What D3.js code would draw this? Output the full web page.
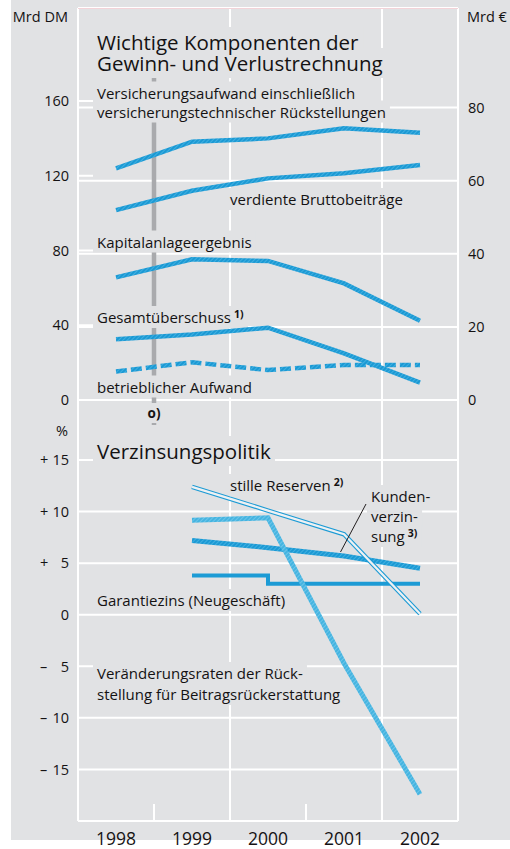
<!DOCTYPE html>
<html>
<head>
<meta charset="utf-8">
<script src="https://cdn.jsdelivr.net/npm/d3@7"></script>
<style>
  body { margin: 0; background: #fff; }
  text { font-family: "Open Sans", "Noto Sans", sans-serif; fill: #141213; }
</style>
</head>
<body>
<svg id="chart" width="510" height="849"></svg>
<script>
// years on the x axis
var years = ["1998", "1999", "2000", "2001", "2002"];
var pctYears = ["1999", "2000", "2001", "2002"];

// upper panel, Mrd DM
var versAufwand = [124, 138.2, 140, 145.4, 143];
var bruttoBeitraege = [101.6, 112, 118.6, 121.3, 125.7];
var kapitalErgebnis = [65.6, 75.3, 74.4, 62.4, 42.4];
var gesamtUeberschuss = [32.5, 35, 38.7, 25, 9.3];
var betrAufwand = [15.2, 20.2, 16, 18.7, 18.7];

// lower panel, %
var stilleReserven = [12.4, 10.1, 7.8, 0.1];
var rueckstellung = [9.15, 9.4, -4.7, -17.4];
var kundenZins = [7.2, 6.5, 5.7, 4.5];
var garantieZins = [3.8, 3.0, 3.0, 3.0];

// tick labels
var dmTicks = [0, 40, 80, 120, 160];
var euroTicks = [0, 20, 40, 60, 80];
var pctTicks = [15, 10, 5, 0, -5, -10, -15];

var bg = "#e1e2e4";
var blue = "#1c9bd5";
var svg = d3.select("#chart");

svg.append("rect").attr("x", 11).attr("y", 0).attr("width", 499).attr("height", 840).attr("fill", bg);

// hatch patterns for the thick lines
var defs = svg.append("defs");
function hatch(id, base, stripe) {
  var p = defs.append("pattern").attr("id", id)
      .attr("patternUnits", "userSpaceOnUse")
      .attr("width", 3).attr("height", 3)
      .attr("patternTransform", "rotate(45)");
  p.append("rect").attr("width", 3).attr("height", 3).attr("fill", base);
  p.append("rect").attr("width", 1).attr("height", 3).attr("fill", stripe);
}
hatch("hatchBlue", "#1b99d4", "#3fafe0");
hatch("hatchLight", "#45b4e0", "#6cc5ea");

// scales
var x = d3.scaleBand().domain(years).range([78, 458]);
var cx = function(d) { return x(d) + x.bandwidth() / 2; };
var yDM = d3.scaleLinear().domain([0, 160]).range([400, 101]);
var yEuro = d3.scaleLinear().domain([0, 80]).range([yDM(0), yDM(80 * 1.95583)]);
var yPct = d3.scaleLinear().domain([-20, 15]).range([821, 460]);

var grid = svg.append("g").attr("stroke", "#fff").attr("stroke-width", 2);

// horizontal grid lines
euroTicks.slice(1).forEach(function(t) {
  grid.append("line").attr("x1", 78).attr("x2", 458).attr("y1", yEuro(t)).attr("y2", yEuro(t));
});
dmTicks.forEach(function(t) {
  grid.append("line").attr("x1", 78).attr("x2", 93).attr("y1", yDM(t)).attr("y2", yDM(t));
});
grid.append("line").attr("x1", 78).attr("x2", 458).attr("y1", yDM(0)).attr("y2", yDM(0));
pctTicks.forEach(function(t) {
  grid.append("line").attr("x1", 78).attr("x2", 458).attr("y1", yPct(t)).attr("y2", yPct(t));
});
grid.append("line").attr("x1", 78).attr("x2", 458).attr("y1", yPct(-20)).attr("y2", yPct(-20));

// vertical lines
[78, x("2000"), x("2002"), 458].forEach(function(v) {
  grid.append("line").attr("x1", v).attr("x2", v).attr("y1", 8).attr("y2", 821);
});
[x("1999"), x("2001")].forEach(function(v) {
  grid.append("line").attr("x1", v).attr("x2", v).attr("y1", 804).attr("y2", 821);
});
grid.append("line").attr("x1", 78).attr("x2", 458).attr("y1", 8).attr("y2", 8);
svg.append("line").attr("x1", 78).attr("x2", 458).attr("y1", 8.5).attr("y2", 8.5)
  .attr("stroke", "#f3d3d8").attr("stroke-width", 1);

// marker bar for the currency switch
svg.append("line").attr("x1", x("1999")).attr("x2", x("1999")).attr("y1", 75).attr("y2", 425)
  .attr("stroke", "#a9aaad").attr("stroke-width", 4.5);

// text with a background box that hides the grid
var boxes = svg.append("g");
var labels = svg.append("g");
function label(tx, ty, str, size, opts) {
  opts = opts || {};
  var t = labels.append("text").attr("x", tx).attr("y", ty).attr("font-size", size)
      .attr("text-anchor", opts.anchor || "start")
      .attr("font-weight", opts.bold ? "bold" : null)
      .text(str);
  if (opts.sup) {
    t.append("tspan").attr("dx", 3).attr("dy", -5).attr("font-size", 10.5).attr("font-weight", "bold").text(opts.sup);
  }
  if (opts.box !== false) {
    var b = t.node().getBBox();
    boxes.append("rect").attr("x", b.x - 4).attr("y", b.y - 1)
      .attr("width", b.width + 8).attr("height", b.height + 2).attr("fill", bg);
  }
  return t;
}

label(97, 50, "Wichtige Komponenten der", 20.5);
label(97, 71, "Gewinn- und Verlustrechnung", 20.5);
label(97, 98.5, "Versicherungsaufwand einschließlich", 15);
label(97, 117.5, "versicherungstechnischer Rückstellungen", 15);
label(230, 205, "verdiente Bruttobeiträge", 15);
label(97, 247.5, "Kapitalanlageergebnis", 15);
label(97, 323, "Gesamtüberschuss", 15, {sup: "1)"});
label(97, 392.5, "betrieblicher Aufwand", 15);
label(x("1999"), 418, "o)", 13.5, {anchor: "middle", bold: true});

label(97, 459, "Verzinsungspolitik", 20.5);
label(230, 491, "stille Reserven", 15, {sup: "2)"});
label(371, 502, "Kunden-", 15);
label(371, 522, "verzin-", 15);
label(371, 542, "sung", 15, {sup: "3)"});
label(97, 606, "Garantiezins (Neugeschäft)", 15);
label(97, 679, "Veränderungsraten der Rück-", 15);
label(97, 700, "stellung für Beitragsrückerstattung", 15);

// axis labels
label(68, 22, "Mrd DM", 14.5, {anchor: "end", box: false});
label(467, 22, "Mrd €", 14.5, {box: false});
label(68, 436, "%", 14.5, {anchor: "end", box: false});

svg.append("g").selectAll("text").data(dmTicks).join("text")
  .attr("x", 69).attr("y", function(d) { return yDM(d); }).attr("dy", "0.36em")
  .attr("text-anchor", "end").attr("font-size", 14.5).text(function(d) { return d; });
svg.append("g").selectAll("text").data(euroTicks).join("text")
  .attr("x", 468).attr("y", function(d) { return yEuro(d); }).attr("dy", "0.36em")
  .attr("font-size", 14.5).text(function(d) { return d; });
var pctLab = svg.append("g").selectAll("g").data(pctTicks).join("g")
  .attr("transform", function(d) { return "translate(0," + yPct(d) + ")"; });
pctLab.append("text").attr("x", 69).attr("dy", "0.36em").attr("text-anchor", "end")
  .attr("font-size", 14.5).text(function(d) { return Math.abs(d); });
pctLab.append("text").attr("x", 40).attr("dy", "0.36em").attr("font-size", 14.5)
  .text(function(d) { return d > 0 ? "+" : d < 0 ? "–" : ""; });

svg.append("g").selectAll("text").data(years).join("text")
  .attr("x", cx).attr("y", 845).attr("text-anchor", "middle")
  .attr("font-size", 17.5).text(function(d) { return d; });

// data lines
var lineDM = d3.line().x(function(d, i) { return cx(years[i]); }).y(function(d) { return yDM(d); });
var linePct = d3.line().x(function(d, i) { return cx(pctYears[i]); }).y(function(d) { return yPct(d); });
var lines = svg.append("g").attr("fill", "none").attr("stroke-linejoin", "miter");

[versAufwand, bruttoBeitraege, kapitalErgebnis, gesamtUeberschuss].forEach(function(s) {
  lines.append("path").attr("d", lineDM(s)).attr("stroke", "url(#hatchBlue)").attr("stroke-width", 4.5);
});
lines.append("path").attr("d", lineDM(betrAufwand)).attr("stroke", "url(#hatchBlue)")
  .attr("stroke-width", 4.5).attr("stroke-dasharray", "11,4");

lines.append("path").attr("d", linePct.curve(d3.curveStepAfter)(garantieZins))
  .attr("stroke", blue).attr("stroke-width", 4);
linePct.curve(d3.curveLinear);
lines.append("path").attr("d", linePct(kundenZins)).attr("stroke", "url(#hatchBlue)").attr("stroke-width", 5);
lines.append("path").attr("d", linePct(stilleReserven)).attr("stroke", blue).attr("stroke-width", 4.5);
lines.append("path").attr("d", linePct(stilleReserven)).attr("stroke", "#eef1f3").attr("stroke-width", 2.3);
lines.append("path").attr("d", linePct(rueckstellung)).attr("stroke", "url(#hatchLight)").attr("stroke-width", 5);

// leader line for Kundenverzinsung
svg.append("line").attr("x1", 366).attr("y1", 504).attr("x2", 340.5).attr("y2", 552)
  .attr("stroke", "#231f20").attr("stroke-width", 1);
</script>
</body>
</html>
